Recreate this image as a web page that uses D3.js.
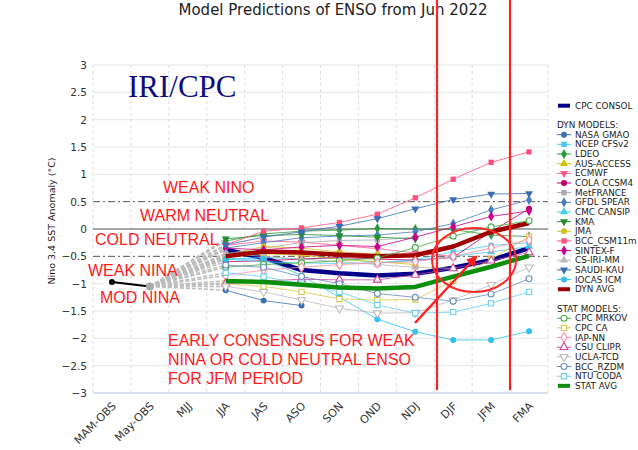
<!DOCTYPE html>
<html><head><meta charset="utf-8">
<script src="https://cdn.jsdelivr.net/npm/d3@7"></script>
<style>body{margin:0;background:#fff;} svg{display:block;font-family:"DejaVu Sans",sans-serif;}</style>
</head><body><svg id="c" width="638" height="450"></svg>
<script>
// ---------- DATA ----------
const categories = ["MAM-OBS","May-OBS","MJJ","JJA","JAS","ASO","SON","OND","NDJ","DJF","JFM","FMA"];
const obsCategories = ["MAM-OBS","May-OBS"];
const observed = [-0.97, -1.05];
const seasons = ["JJA","JAS","ASO","SON","OND","NDJ","DJF","JFM","FMA"];
const yTicks = [-3,-2.5,-2,-1.5,-1,-0.5,0,0.5,1,1.5,2,2.5,3];

const cpcConsol  = [-0.38,-0.53,-0.75,-0.81,-0.85,-0.82,-0.71,-0.57,-0.35];
const nasaGmao   = [-1.12,-1.31,-1.40,null,null,null,null,null,null];
const ncepCfsv2  = [-0.55,-0.52,-0.55,-0.53,-0.62,-0.56,-0.42,-0.30,-0.25];
const ldeo       = [-0.22,-0.09,-0.04,-0.02,0.01,0.00,-0.01,-0.11,-0.14];
const ausAccess  = [-0.52,-0.45,-0.48,-0.55,-0.60,-0.65,null,null,null];
const ecmwf      = [-0.30,-0.22,-0.24,-0.30,-0.36,-0.44,-0.50,null,null];
const colaCcsm4  = [-0.60,-0.58,-0.55,-0.52,-0.55,-0.57,-0.52,-0.05,0.37];
const metFrance  = [-0.45,-0.35,-0.25,-0.21,-0.20,-0.15,null,null,null];
const gfdlSpear  = [-0.35,-0.25,-0.16,-0.13,-0.11,-0.05,0.10,0.35,0.53];
const cmcCansip  = [-0.55,-0.60,-0.62,-0.63,-0.62,-0.58,-0.50,-0.42,-0.32];
const kma        = [-0.18,-0.12,-0.10,-0.12,-0.15,-0.18,null,null,null];
const jma        = [-0.48,-0.32,-0.35,-0.42,-0.46,-0.50,null,null,null];
const bccCsm11m  = [-0.29,-0.04,0.02,0.12,0.27,0.57,0.91,1.22,1.41];
const sintexF    = [-0.35,-0.38,-0.33,-0.30,-0.32,-0.15,0.04,0.23,0.33];
const csIriMm    = [-0.45,-0.50,-0.55,-0.60,-0.65,-0.70,-0.72,null,null];
const saudiKau   = [-0.29,-0.15,-0.05,0.05,0.19,0.37,0.54,0.64,0.65];
const iocasIcm   = [-0.55,-0.55,-0.85,-1.25,-1.65,-1.88,-2.03,-2.03,-1.87];
const dynAvg     = [-0.50,-0.41,-0.43,-0.47,-0.50,-0.48,-0.32,-0.05,0.11];
const cpcMrkov   = [-0.70,-0.65,-0.62,-0.58,-0.53,-0.34,-0.13,0.04,0.15];
const cpcCa      = [-1.00,-1.05,-1.15,-1.28,-1.30,-1.29,-0.95,-0.55,-0.14];
const iapNn      = [-0.85,-0.75,-0.70,-0.65,-0.62,-0.60,-0.50,-0.35,-0.20];
const csuClipr   = [-1.00,-0.95,-0.92,-0.93,-0.93,-0.84,-0.72,-0.58,-0.43];
const uclaTcd    = [-1.05,-1.15,-1.30,-1.45,-1.54,-1.53,-1.30,-1.02,-0.70];
const bccRzdm    = [-0.66,-0.70,-0.87,-1.00,-1.18,-1.25,-1.32,-1.19,-0.91];
const ntuCoda    = [-0.80,-0.87,-1.00,-1.15,-1.39,-1.54,-1.52,-1.36,-1.15];
const statAvg    = [-0.95,-0.97,-1.02,-1.07,-1.09,-1.06,-0.87,-0.69,-0.49];

const series = [
  {name:"CPC CONSOL", values:cpcConsol, color:"#00008b", thick:true},
  {header:"DYN MODELS:"},
  {name:"NASA GMAO", values:nasaGmao, color:"#3a6fb0", sym:"circle"},
  {name:"NCEP CFSv2", values:ncepCfsv2, color:"#45c8f0", sym:"square"},
  {name:"LDEO", values:ldeo, color:"#2a9a3a", sym:"diamond"},
  {name:"AUS-ACCESS", values:ausAccess, color:"#d4c000", sym:"triangle"},
  {name:"ECMWF", values:ecmwf, color:"#ff5c8a", sym:"triangle-down"},
  {name:"COLA CCSM4", values:colaCcsm4, color:"#c0006a", sym:"circle"},
  {name:"MetFRANCE", values:metFrance, color:"#aaaaaa", sym:"square"},
  {name:"GFDL SPEAR", values:gfdlSpear, color:"#4a7cc0", sym:"diamond"},
  {name:"CMC CANSIP", values:cmcCansip, color:"#45ccee", sym:"triangle"},
  {name:"KMA", values:kma, color:"#1f8f2f", sym:"triangle-down"},
  {name:"JMA", values:jma, color:"#d0c020", sym:"circle"},
  {name:"BCC_CSM11m", values:bccCsm11m, color:"#ff4f7a", sym:"square"},
  {name:"SINTEX-F", values:sintexF, color:"#c8008c", sym:"diamond"},
  {name:"CS-IRI-MM", values:csIriMm, color:"#b8b8b8", sym:"triangle"},
  {name:"SAUDI-KAU", values:saudiKau, color:"#3b6db3", sym:"triangle-down"},
  {name:"IOCAS ICM", values:iocasIcm, color:"#33c0ee", sym:"circle"},
  {name:"DYN AVG", values:dynAvg, color:"#a00000", thick:true},
  {blank:true},
  {header:"STAT MODELS:"},
  {name:"CPC MRKOV", values:cpcMrkov, color:"#44aa44", sym:"circle", hollow:true},
  {name:"CPC CA", values:cpcCa, color:"#d4c94a", sym:"square", hollow:true},
  {name:"IAP-NN", values:iapNn, color:"#ff8fa8", sym:"diamond", hollow:true},
  {name:"CSU CLIPR", values:csuClipr, color:"#cc4499", sym:"triangle", hollow:true},
  {name:"UCLA-TCD", values:uclaTcd, color:"#bbbbbb", sym:"triangle-down", hollow:true},
  {name:"BCC_RZDM", values:bccRzdm, color:"#6a8cc0", sym:"circle", hollow:true},
  {name:"NTU CODA", values:ntuCoda, color:"#66d0f0", sym:"square", hollow:true},
  {name:"STAT AVG", values:statAvg, color:"#0a8f0a", thick:true}
];

const annotations = [
  {text:"WEAK NINO", x:163, y:193},
  {text:"WARM NEUTRAL", x:140, y:221},
  {text:"COLD NEUTRAL", x:95, y:245},
  {text:"WEAK NINA", x:88, y:276},
  {text:"MOD NINA", x:100, y:303}
];
const consensusLines = ["EARLY CONSENSUS FOR WEAK","NINA OR COLD NEUTRAL ENSO","FOR JFM PERIOD"];

// ---------- CHART ----------
const svg = d3.select("#c");
const x = d3.scaleBand().domain(categories).range([93,548]).padding(0);
const cx = c => x(c) + x.bandwidth()/2;
const y = d3.scaleLinear().domain([-3,3]).range([393,65]);
const L = 93, R = 548;

// grid
svg.append("g").selectAll("line").data(yTicks.filter(d=>d!==0 && Math.abs(d)!==0.5 && d!==-3)).join("line")
  .attr("x1",L).attr("x2",R).attr("y1",d=>y(d)).attr("y2",d=>y(d))
  .attr("stroke","#e6e6e6").attr("stroke-width",1);
const bounds = categories.map(c=>x(c)).concat([R]);
svg.append("g").selectAll("line").data(bounds).join("line")
  .attr("x1",d=>d).attr("x2",d=>d).attr("y1",y(3)).attr("y2",y(-3))
  .attr("stroke","#dcdcdc").attr("stroke-width",1).attr("stroke-dasharray","3,3");
// zero & +-0.5 lines
svg.append("line").attr("x1",L).attr("x2",R).attr("y1",y(0)).attr("y2",y(0))
  .attr("stroke","#8a8a8a").attr("stroke-width",1.3);
[0.5,-0.5].forEach(v=>svg.append("line").attr("x1",L).attr("x2",R).attr("y1",y(v)).attr("y2",y(v))
  .attr("stroke","#555").attr("stroke-width",1).attr("stroke-dasharray","7,3,2,3"));
// bottom axis line
svg.append("line").attr("x1",L).attr("x2",R).attr("y1",y(-3)).attr("y2",y(-3))
  .attr("stroke","#ccd6eb").attr("stroke-width",1.5);

// y axis
const ya = svg.append("g").attr("transform","translate(87,0)")
  .call(d3.axisLeft(y).tickValues(yTicks).tickSize(0).tickPadding(0).tickFormat(d3.format("~g")));
ya.select(".domain").remove();
ya.selectAll("text").attr("font-size",10.5).attr("fill","#333").attr("font-family","DejaVu Sans");

// x axis
const xa = svg.append("g").attr("transform",`translate(0,${y(-3)})`)
  .call(d3.axisBottom(x).tickSize(0).tickPadding(0));
xa.select(".domain").remove();
xa.selectAll("text").attr("font-size",11).attr("fill","#333").attr("font-family","DejaVu Sans")
  .attr("text-anchor","end").attr("x",0).attr("y",0).attr("dy","0.35em")
  .attr("transform","translate(2,11) rotate(-45)");

// title
svg.append("text").attr("x",333).attr("y",15).attr("text-anchor","middle")
  .attr("font-size",15).attr("fill","#222").text("Model Predictions of ENSO from Jun 2022");
// y title
svg.append("text").attr("transform","translate(55,221) rotate(-90)").attr("text-anchor","middle")
  .attr("font-size",9.5).attr("fill","#222").text("Nino 3.4 SST Anomaly (°C)");

// IRI/CPC
svg.append("text").attr("x",128).attr("y",97).attr("font-family","Liberation Serif, serif")
  .attr("font-size",31).attr("fill","#0d0d80").text("IRI/CPC");

// symbols
const symType = s => ({circle:d3.symbolCircle, square:d3.symbolSquare, diamond:d3.symbolDiamond,
  triangle:d3.symbolTriangle, "triangle-down":d3.symbolTriangle})[s];
const symSize = s => ({circle:28, square:28, diamond:30, triangle:28, "triangle-down":28})[s];
function drawSym(g, s, px, py){
  const p = g.append("path").attr("d", d3.symbol(symType(s.sym), symSize(s.sym))())
    .attr("transform", `translate(${px},${py})` + (s.sym==="triangle-down" ? " rotate(180)" : ""));
  if (s.hollow) p.attr("fill","#fff").attr("stroke",s.color).attr("stroke-width",1.1);
  else p.attr("fill",s.color);
}

const plotSeries = series.filter(s=>s.values);
// dashed connectors from May-OBS
const obsX = cx("May-OBS"), obsY = y(observed[1]);
svg.append("g").selectAll("line").data(plotSeries).join("line")
  .attr("x1",obsX).attr("y1",obsY).attr("x2",cx(seasons[0])).attr("y2",s=>y(s.values[0]))
  .attr("stroke","#bdbdbd").attr("stroke-width",1.6).attr("stroke-dasharray","4,2");

// observed
svg.append("path").datum(observed).attr("fill","none").attr("stroke","#000").attr("stroke-width",2)
  .attr("d", d3.line().x((d,i)=>cx(obsCategories[i])).y(d=>y(d)));
svg.append("circle").attr("cx",cx("MAM-OBS")).attr("cy",y(observed[0])).attr("r",3).attr("fill","#000");
svg.append("circle").attr("cx",obsX).attr("cy",obsY).attr("r",4).attr("fill","#a8a8a8");

const line = d3.line().defined(d=>d!=null).x((d,i)=>cx(seasons[i])).y(d=>y(d));
plotSeries.forEach(s=>{
  const g = svg.append("g");
  g.append("path").datum(s.values).attr("fill","none").attr("stroke",s.color)
    .attr("stroke-width", s.thick?4.5:1).attr("stroke-opacity", s.thick?1:0.8)
    .attr("stroke-linejoin","round").attr("d", line);
  if (!s.thick) s.values.forEach((v,i)=>{ if(v!=null) drawSym(g, s, cx(seasons[i]), y(v)); });
});

// legend
const lg = svg.append("g");
series.forEach((s,i)=>{
  const ry = 105.7 + i*9.66 + (i>0?9.66:0);
  if (s.blank) return;
  if (s.header){ lg.append("text").attr("x",557).attr("y",ry+3).attr("font-size",8.8).attr("fill","#222").text(s.header); return; }
  if (s.thick){
    lg.append("rect").attr("x",558).attr("y",ry-2).attr("width",12).attr("height",4).attr("fill",s.color);
  } else {
    lg.append("line").attr("x1",557).attr("x2",571).attr("y1",ry).attr("y2",ry).attr("stroke",s.color).attr("stroke-width",1);
    drawSym(lg, s, 564, ry);
  }
  lg.append("text").attr("x",575).attr("y",ry+3).attr("font-size",8.8).attr("fill","#222").text(s.name);
});

// annotations
const ann = svg.append("g").attr("font-family","Liberation Sans, Arial, sans-serif").attr("font-size",16).attr("fill","#ff1a1a");
annotations.forEach(a=>ann.append("text").attr("x",a.x).attr("y",a.y).text(a.text));
consensusLines.forEach((t,i)=>ann.append("text").attr("x",168).attr("y",346+i*19).text(t));

// red markup
[437,510].forEach(xx=>svg.append("line").attr("x1",xx).attr("x2",xx).attr("y1",0).attr("y2",390)
  .attr("stroke","#ff2020").attr("stroke-width",2.2));
svg.append("ellipse").attr("cx",474).attr("cy",260).attr("rx",42).attr("ry",32)
  .attr("fill","none").attr("stroke","#ff2a2a").attr("stroke-width",2);
svg.append("defs").append("marker").attr("id","ah").attr("viewBox","0 0 10 10").attr("refX",8).attr("refY",5)
  .attr("markerWidth",4.5).attr("markerHeight",4.5).attr("orient","auto")
  .append("path").attr("d","M0,0 L10,5 L0,10 z").attr("fill","#ff2020");
svg.append("line").attr("x1",415).attr("y1",323).attr("x2",476).attr("y2",257)
  .attr("stroke","#ff2020").attr("stroke-width",2.5).attr("marker-end","url(#ah)");
</script></body></html>
